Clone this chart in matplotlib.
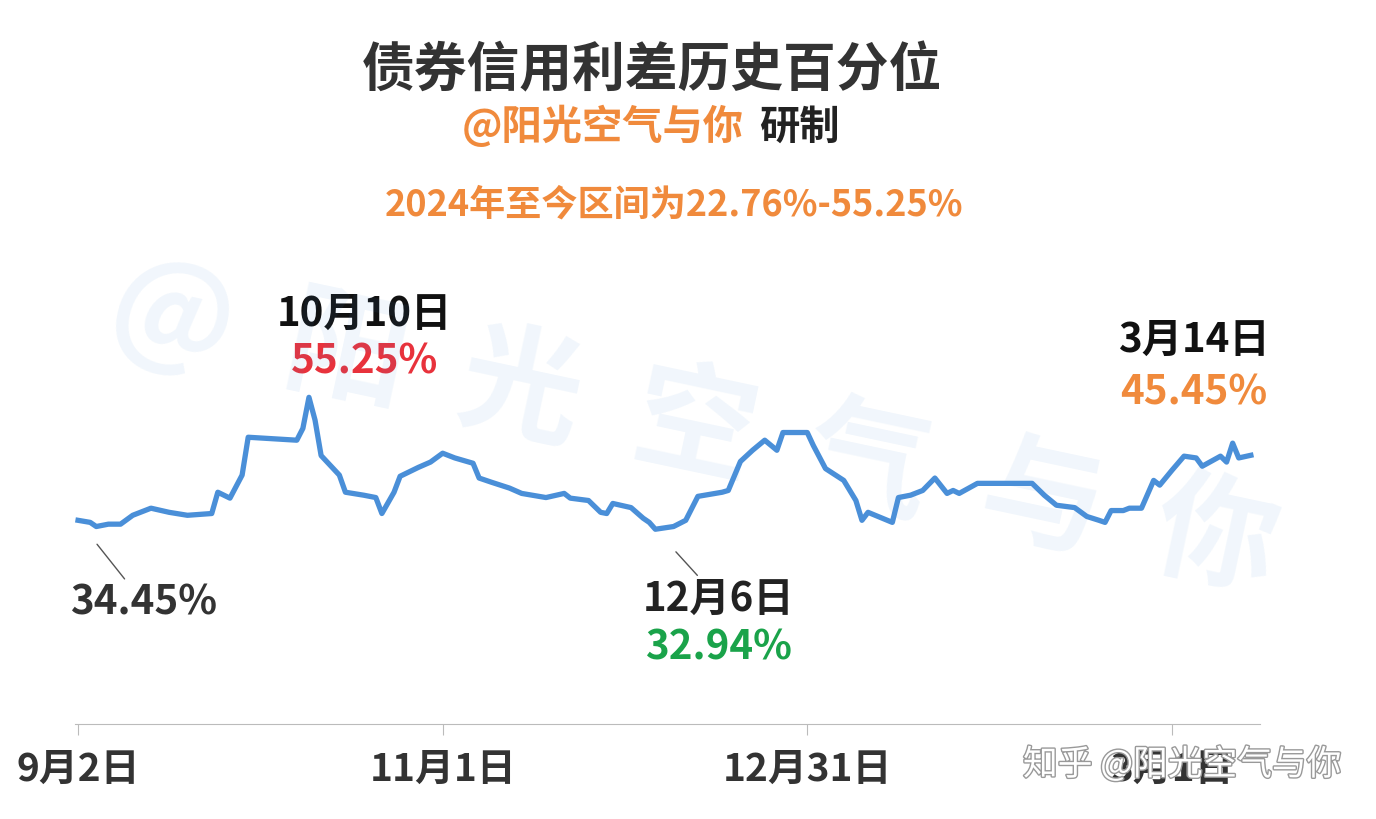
import matplotlib
matplotlib.use("Agg")
import matplotlib.pyplot as plt
import matplotlib.patheffects as pe
import pandas as pd

plt.rcParams['font.family'] = ['Noto Sans CJK SC', 'DejaVu Sans']

start = pd.Timestamp("2024-09-02")
day_offsets = [0,2,3,5,7,9,12,15,18,22,23,25,27,28,36,37,38,39,40,43,44,47,49,50,52,53,56,58,60,62,65,66,68,71,73,77,80,81,84,86,87,88,91,93,94,95,98,100,102,106,107,109,111,113,115,116,120,121,123,126,128,129,130,134,135,137,139,141,143,144,145,148,157,159,161,164,166,168,169,170,172,173,175,177,178,180,182,184,185,188,189,190,191,193]
values = [34.45,34.1,33.4,33.8,33.8,35.3,36.5,35.8,35.3,35.6,39.2,38.2,42.1,48.5,48.0,50.0,55.25,51.4,45.4,42.1,39.2,38.7,38.3,35.6,39.2,41.9,43.4,44.3,45.8,45.0,44.1,41.6,40.9,39.9,39.0,38.3,39.0,38.2,37.8,35.8,35.6,37.3,36.6,34.8,34.1,32.94,33.4,34.45,38.5,39.2,39.5,44.4,46.3,48.0,46.3,49.3,49.3,47.1,43.2,41.2,37.8,34.45,35.8,34.1,38.3,38.7,39.5,41.6,39.0,39.5,39.0,40.7,40.7,38.7,37.0,36.6,35.1,34.45,34.1,36.1,36.1,36.5,36.5,41.2,40.4,42.9,45.3,45.0,43.6,45.3,44.3,47.5,45.0,45.45]
dates = [start + pd.Timedelta(days=d) for d in day_offsets]

tick_dates = [pd.Timestamp("2024-09-02"), pd.Timestamp("2024-11-01"), pd.Timestamp("2024-12-31"), pd.Timestamp("2025-03-01")]
tick_labels = ["9月2日", "11月1日", "12月31日", "3月1日"]

fig = plt.figure(figsize=(13.76, 8.2), dpi=100)
ax = fig.add_axes([75/1376, 95/820, 1185/1376, 473/820])
ax.plot(dates, values, color="#4a8fd8", lw=3.8, solid_joinstyle="round", zorder=3)
ax.set_ylim(0, 80)
ax.set_xlim(start - pd.Timedelta(days=0.5), start + pd.Timedelta(days=194.5))
for s in ["top", "left", "right"]:
    ax.spines[s].set_visible(False)
ax.spines["bottom"].set_color("#bbbbbb")
ax.set_yticks([])
ax.set_xticks(tick_dates)
ax.set_xticklabels(tick_labels, fontsize=28, fontweight="bold", color="#333333")
ax.tick_params(axis="x", length=8, color="#bbbbbb", pad=10)

# watermark
fig.text(0.505, 0.48, "@  阳  光  空  气  与  你", fontsize=88, color="#4a8fd8", alpha=0.08,
         rotation=-12, ha="center", va="center", fontweight="bold")
fig.text(0.975, 0.066, "知乎 @阳光空气与你", fontsize=25, color="white", ha="right", va="center", zorder=10,
         path_effects=[pe.withStroke(linewidth=2, foreground="#999999")])

# titles
fig.text(0.474, 0.913, "债券信用利差历史百分位", fontsize=38, fontweight="bold", color="#333333", ha="center", va="center")
fig.text(0.438, 0.845, "@阳光空气与你", fontsize=29, fontweight="bold", color="#f08a3c", ha="center", va="center")
fig.text(0.581, 0.845, "研制", fontsize=29, fontweight="bold", color="#222222", ha="center", va="center")
fig.text(0.49, 0.75, "2024年至今区间为22.76%-55.25%", fontsize=26, fontweight="bold", color="#f08a3c", ha="center", va="center")

# annotations
fs = 29
ax.annotate("34.45%", xy=(dates[0], values[0]), xytext=(start + pd.Timedelta(days=10.7), 20.6),
            fontsize=fs, fontweight="bold", color="#333333", ha="center", va="center",
            arrowprops=dict(arrowstyle="-", color="#555555", lw=1, shrinkB=22, shrinkA=0))
ax.text(start + pd.Timedelta(days=47.2), 69.4, "10月10日", fontsize=fs, fontweight="bold", color="#111111", ha="center", va="center")
ax.text(start + pd.Timedelta(days=47.2), 61.4, "55.25%", fontsize=fs, fontweight="bold", color="#e8323c", ha="center", va="center")
ax.annotate("12月6日", xy=(dates[45], values[45]), xytext=(start + pd.Timedelta(days=105.4), 21.2),
            fontsize=fs, fontweight="bold", color="#222222", ha="center", va="center",
            arrowprops=dict(arrowstyle="-", color="#555555", lw=1, shrinkB=22, shrinkA=0))
ax.text(start + pd.Timedelta(days=105.4), 13.0, "32.94%", fontsize=fs, fontweight="bold", color="#1aa34a", ha="center", va="center")
ax.text(start + pd.Timedelta(days=183.6), 65.1, "3月14日", fontsize=fs, fontweight="bold", color="#111111", ha="center", va="center")
ax.text(start + pd.Timedelta(days=183.6), 56.2, "45.45%", fontsize=fs, fontweight="bold", color="#f08a3c", ha="center", va="center")

fig.savefig("out.png", dpi=100, facecolor="white")
